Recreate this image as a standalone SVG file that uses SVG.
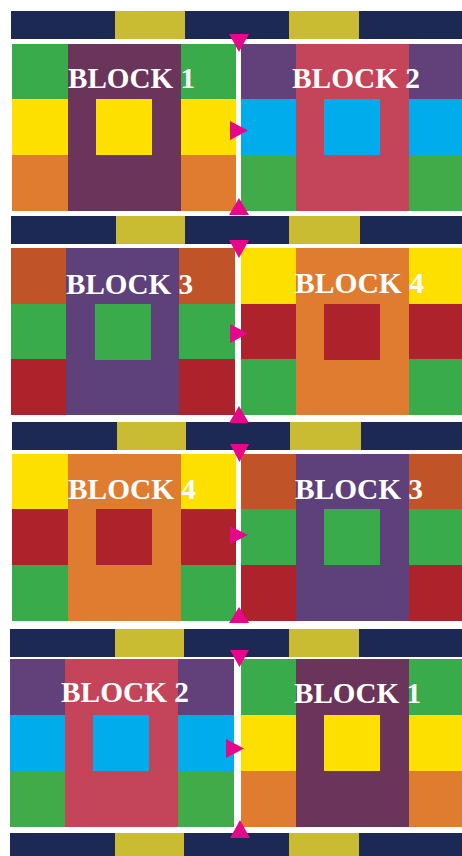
<svg xmlns="http://www.w3.org/2000/svg" width="462" height="856" viewBox="0 0 462 856">
<style>
.nv{fill:#1b2954}.ol{fill:#c9bb32}
.gr{fill:#3aab4a}.ye{fill:#fde000}.or{fill:#e07c30}.pu1{fill:#6b345a}
.pu2{fill:#624079}.rd2{fill:#c4455a}.cy{fill:#00acec}.gr2{fill:#41ab49}
.orr{fill:#c05428}.pu3{fill:#5e417a}.rd{fill:#ad222b}
.lbl{font-family:"Liberation Serif","DejaVu Serif",serif;font-weight:bold;font-size:29px;fill:#ffffff}
.arr{fill:#e6088a}
</style>
<rect width="462" height="856" fill="#ffffff"/>
<g id="strips">
<rect class="nv" x="11" y="11" width="104" height="28"/><rect class="ol" x="115" y="11" width="70" height="28"/><rect class="nv" x="185" y="11" width="104" height="28"/><rect class="ol" x="289" y="11" width="70" height="28"/><rect class="nv" x="359" y="11" width="103" height="28"/>
<rect class="nv" x="11" y="216" width="105" height="28"/><rect class="ol" x="116" y="216" width="69" height="28"/><rect class="nv" x="185" y="216" width="104" height="28"/><rect class="ol" x="289" y="216" width="71" height="28"/><rect class="nv" x="360" y="216" width="102" height="28"/>
<rect class="nv" x="12" y="422" width="105" height="28"/><rect class="ol" x="117" y="422" width="69" height="28"/><rect class="nv" x="186" y="422" width="104" height="28"/><rect class="ol" x="290" y="422" width="71" height="28"/><rect class="nv" x="361" y="422" width="101" height="28"/>
<rect class="nv" x="10" y="629" width="105" height="28"/><rect class="ol" x="115" y="629" width="69" height="28"/><rect class="nv" x="184" y="629" width="105" height="28"/><rect class="ol" x="289" y="629" width="70" height="28"/><rect class="nv" x="359" y="629" width="103" height="28"/>
<rect class="nv" x="10" y="833" width="105" height="23"/><rect class="ol" x="115" y="833" width="69" height="23"/><rect class="nv" x="184" y="833" width="105" height="23"/><rect class="ol" x="289" y="833" width="70" height="23"/><rect class="nv" x="359" y="833" width="103" height="23"/>
</g>
<g id="block1-top">
<rect class="gr" x="12" y="44" width="56" height="55"/><rect class="ye" x="12" y="99" width="56" height="56"/><rect class="or" x="12" y="155" width="56" height="56"/>
<rect class="pu1" x="68" y="44" width="113" height="167"/><rect class="ye" x="96" y="99" width="56" height="56"/>
<rect class="gr" x="181" y="44" width="55" height="55"/><rect class="ye" x="181" y="99" width="55" height="56"/><rect class="or" x="181" y="155" width="55" height="56"/>
<text class="lbl" x="68" y="88" textLength="127" lengthAdjust="spacingAndGlyphs">BLOCK 1</text>
</g>
<g id="block2-top">
<rect class="pu2" x="241" y="44" width="55" height="55"/><rect class="cy" x="241" y="99" width="55" height="56"/><rect class="gr2" x="241" y="155" width="55" height="56"/>
<rect class="rd2" x="296" y="44" width="113" height="167"/><rect class="cy" x="324" y="99" width="56" height="56"/>
<rect class="pu2" x="409" y="44" width="53" height="55"/><rect class="cy" x="409" y="99" width="53" height="56"/><rect class="gr2" x="409" y="155" width="53" height="56"/>
<text class="lbl" x="292" y="88" textLength="128" lengthAdjust="spacingAndGlyphs">BLOCK 2</text>
</g>
<g id="block3-left">
<rect class="orr" x="11" y="248" width="55" height="56"/><rect class="gr" x="11" y="304" width="55" height="55"/><rect class="rd" x="11" y="359" width="55" height="56"/>
<rect class="pu3" x="66" y="248" width="113" height="167"/><rect class="gr" x="95" y="304" width="56" height="56"/>
<rect class="orr" x="179" y="248" width="56" height="56"/><rect class="gr" x="179" y="304" width="56" height="55"/><rect class="rd" x="179" y="359" width="56" height="56"/>
<text class="lbl" x="66" y="294" textLength="127" lengthAdjust="spacingAndGlyphs">BLOCK 3</text>
</g>
<g id="block4-right">
<rect class="ye" x="241" y="248" width="55" height="56"/><rect class="rd" x="241" y="304" width="55" height="55"/><rect class="gr" x="241" y="359" width="55" height="56"/>
<rect class="or" x="296" y="248" width="113" height="167"/><rect class="rd" x="324" y="304" width="56" height="56"/>
<rect class="ye" x="409" y="248" width="53" height="56"/><rect class="rd" x="409" y="304" width="53" height="55"/><rect class="gr" x="409" y="359" width="53" height="56"/>
<text class="lbl" x="295" y="293" textLength="129" lengthAdjust="spacingAndGlyphs">BLOCK 4</text>
</g>
<g id="block4-left">
<rect class="ye" x="12" y="454" width="56" height="55"/><rect class="rd" x="12" y="509" width="56" height="56"/><rect class="gr" x="12" y="565" width="56" height="56"/>
<rect class="or" x="68" y="454" width="113" height="167"/><rect class="rd" x="96" y="509" width="56" height="56"/>
<rect class="ye" x="181" y="454" width="55" height="55"/><rect class="rd" x="181" y="509" width="55" height="56"/><rect class="gr" x="181" y="565" width="55" height="56"/>
<text class="lbl" x="68" y="499" textLength="128" lengthAdjust="spacingAndGlyphs">BLOCK 4</text>
</g>
<g id="block3-right">
<rect class="orr" x="241" y="454" width="55" height="55"/><rect class="gr" x="241" y="509" width="55" height="56"/><rect class="rd" x="241" y="565" width="55" height="56"/>
<rect class="pu3" x="296" y="454" width="113" height="167"/><rect class="gr" x="324" y="509" width="56" height="56"/>
<rect class="orr" x="409" y="454" width="53" height="55"/><rect class="gr" x="409" y="509" width="53" height="56"/><rect class="rd" x="409" y="565" width="53" height="56"/>
<text class="lbl" x="295" y="499" textLength="128" lengthAdjust="spacingAndGlyphs">BLOCK 3</text>
</g>
<g id="block2-bottom">
<rect class="pu2" x="10" y="659" width="55" height="56"/><rect class="cy" x="10" y="715" width="55" height="56"/><rect class="gr2" x="10" y="771" width="55" height="56"/>
<rect class="rd2" x="65" y="659" width="113" height="168"/><rect class="cy" x="93" y="715" width="56" height="56"/>
<rect class="pu2" x="178" y="659" width="56" height="56"/><rect class="cy" x="178" y="715" width="56" height="56"/><rect class="gr2" x="178" y="771" width="56" height="56"/>
<text class="lbl" x="61" y="702" textLength="128" lengthAdjust="spacingAndGlyphs">BLOCK 2</text>
</g>
<g id="block1-bottom">
<rect class="gr" x="241" y="659" width="55" height="56"/><rect class="ye" x="241" y="715" width="55" height="56"/><rect class="or" x="241" y="771" width="55" height="56"/>
<rect class="pu1" x="296" y="659" width="113" height="168"/><rect class="ye" x="324" y="715" width="56" height="56"/>
<rect class="gr" x="409" y="659" width="53" height="56"/><rect class="ye" x="409" y="715" width="53" height="56"/><rect class="or" x="409" y="771" width="53" height="56"/>
<text class="lbl" x="294" y="703" textLength="127" lengthAdjust="spacingAndGlyphs">BLOCK 1</text>
</g>
<g id="connectors">
<polygon class="arr" points="229,34 249,34 239,52"/>
<polygon class="arr" points="230,121 230,140 248,130.5"/>
<polygon class="arr" points="229,215 249,215 239,198"/>
<polygon class="arr" points="229,240 249,240 239,258"/>
<polygon class="arr" points="230,324 230,343 248,333.5"/>
<polygon class="arr" points="229,423 249,423 239,406"/>
<polygon class="arr" points="230,444 249,444 239.5,462"/>
<polygon class="arr" points="230,526 230,544 248,535"/>
<polygon class="arr" points="229,623 249,623 239,607"/>
<polygon class="arr" points="230,650 249,650 239.5,667"/>
<polygon class="arr" points="226,739 226,758 244,748.5"/>
<polygon class="arr" points="230,838 250,838 240,820"/>
</g>
</svg>
